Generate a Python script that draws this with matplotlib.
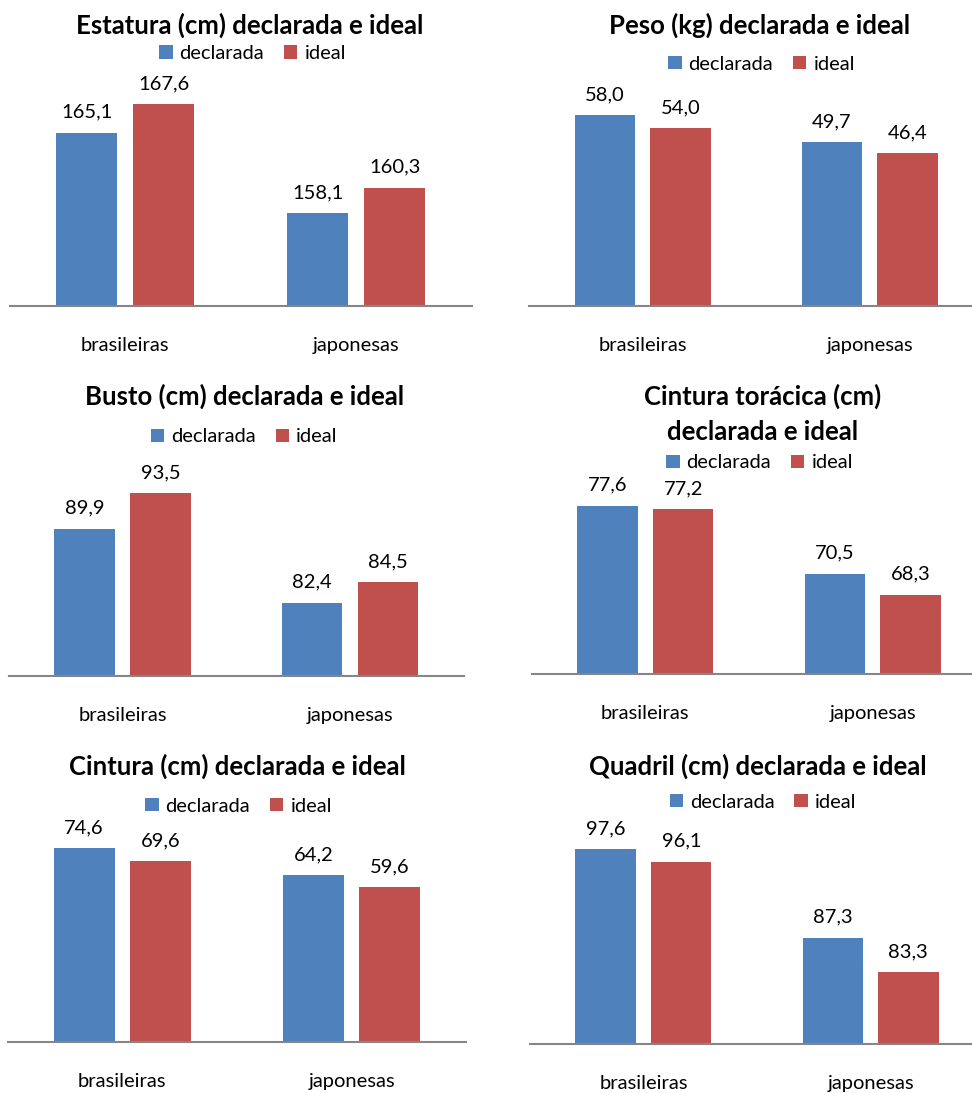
import matplotlib
matplotlib.use("Agg")
import matplotlib.pyplot as plt
from matplotlib.patches import Patch

# ---- data -------------------------------------------------------------
groups = ["brasileiras", "japonesas"]
series_names = ["declarada", "ideal"]

titles = [
    "Estatura (cm) declarada e ideal",
    "Peso (kg) declarada e ideal",
    "Busto (cm) declarada e ideal",
    "Cintura torácica (cm)\ndeclarada e ideal",
    "Cintura (cm) declarada e ideal",
    "Quadril (cm) declarada e ideal",
]

estatura_declarada = [165.1, 158.1]
estatura_ideal = [167.6, 160.3]
peso_declarada = [58.0, 49.7]
peso_ideal = [54.0, 46.4]
busto_declarada = [89.9, 82.4]
busto_ideal = [93.5, 84.5]
torax_declarada = [77.6, 70.5]
torax_ideal = [77.2, 68.3]
cintura_declarada = [74.6, 64.2]
cintura_ideal = [69.6, 59.6]
quadril_declarada = [97.6, 87.3]
quadril_ideal = [96.1, 83.3]

value_axis_ranges = [(150, 170), (0, 70), (75, 100), (60, 80), (0, 80), (75, 100)]

panels_data = [
    (estatura_declarada, estatura_ideal),
    (peso_declarada, peso_ideal),
    (busto_declarada, busto_ideal),
    (torax_declarada, torax_ideal),
    (cintura_declarada, cintura_ideal),
    (quadril_declarada, quadril_ideal),
]

# ---- style / layout ---------------------------------------------------
W, H = 972, 1093
DPI = 100
BLUE = "#4F81BD"
RED = "#C0504D"
AXIS_GREY = "#868686"
FONT = "Lato"

plt.rcParams["font.family"] = [FONT, "DejaVu Sans"]

# plot area in pixels: left, right, top, baseline
plot_boxes = [
    (9.7, 471.7, 76.7, 305.7),
    (529.2, 983.3, 75.4, 305.7),
    (8.8, 463.8, 429.0, 675.7),
    (531.5, 986.5, 482.6, 674.0),
    (7.6, 466.4, 834.2, 1042.0),
    (529.9, 984.1, 828.2, 1043.7),
]
# centre of the first title line, in pixels
title_pos = [(249.7, 25.0), (759.3, 25.0), (244.2, 396.7),
             (762.7, 396.7), (237.8, 766.7), (757.5, 766.7)]
TITLE_LINE_STEP = 35.0
legend_pos = [(252.7, 53.7), (761.7, 64.0), (244.2, 437.0),
              (759.7, 463.0), (238.7, 806.3), (762.8, 802.0)]

BAR_W = 0.266
BAR_OFF = 0.1665
TITLE_SIZE = 18.5
TEXT_SIZE = 14.5


def fx(px):
    return px / W


def fy(py):
    return 1 - py / H


fig = plt.figure(figsize=(W / DPI, H / DPI), dpi=DPI)

for i, ((decl, ideal), (ymin, ymax)) in enumerate(zip(panels_data, value_axis_ranges)):
    x0, x1, top, base = plot_boxes[i]
    ax = fig.add_axes([fx(x0), fy(base), fx(x1) - fx(x0), (base - top) / H])
    ax.set_xlim(-0.5, 1.5)
    ax.set_ylim(ymin, ymax)

    xs = range(len(groups))
    b1 = ax.bar([x - BAR_OFF for x in xs], decl, width=BAR_W, color=BLUE,
                label=series_names[0], zorder=2)
    b2 = ax.bar([x + BAR_OFF for x in xs], ideal, width=BAR_W, color=RED,
                label=series_names[1], zorder=2)

    for bars, vals in ((b1, decl), (b2, ideal)):
        for rect, v in zip(bars, vals):
            ax.annotate(f"{v:.1f}".replace(".", ","),
                        xy=(rect.get_x() + rect.get_width() / 2, v),
                        xytext=(0, 10.8), textcoords="offset points",
                        ha="center", va="baseline", fontsize=TEXT_SIZE,
                        color="black")

    for x, g in zip(xs, groups):
        ax.annotate(g, xy=(x, 0), xycoords=("data", "axes fraction"),
                    xytext=(0, -32.4), textcoords="offset points",
                    ha="center", va="baseline", fontsize=TEXT_SIZE,
                    color="black", annotation_clip=False)

    for s in ("top", "left", "right"):
        ax.spines[s].set_visible(False)
    ax.spines["bottom"].set_color(AXIS_GREY)
    ax.spines["bottom"].set_linewidth(1.5)
    ax.spines["bottom"].set_zorder(3)
    ax.set_xticks([])
    ax.set_yticks([])
    ax.patch.set_alpha(0)

    tx, ty = title_pos[i]
    for k, line in enumerate(titles[i].split("\n")):
        fig.text(fx(tx), fy(ty + k * TITLE_LINE_STEP), line, ha="center",
                 va="center", fontsize=TITLE_SIZE, fontweight="bold",
                 color="black")

    lx, ly = legend_pos[i]
    handles = [Patch(facecolor=BLUE, label=series_names[0]),
               Patch(facecolor=RED, label=series_names[1])]
    ax.legend(handles=handles, loc="center", ncol=2,
              bbox_to_anchor=(fx(lx), fy(ly)), bbox_transform=fig.transFigure,
              frameon=False, fontsize=TEXT_SIZE, handlelength=0.65,
              handleheight=0.65, handletextpad=0.35, columnspacing=1.0,
              borderpad=0, borderaxespad=0)

fig.savefig("out.png", dpi=DPI)
